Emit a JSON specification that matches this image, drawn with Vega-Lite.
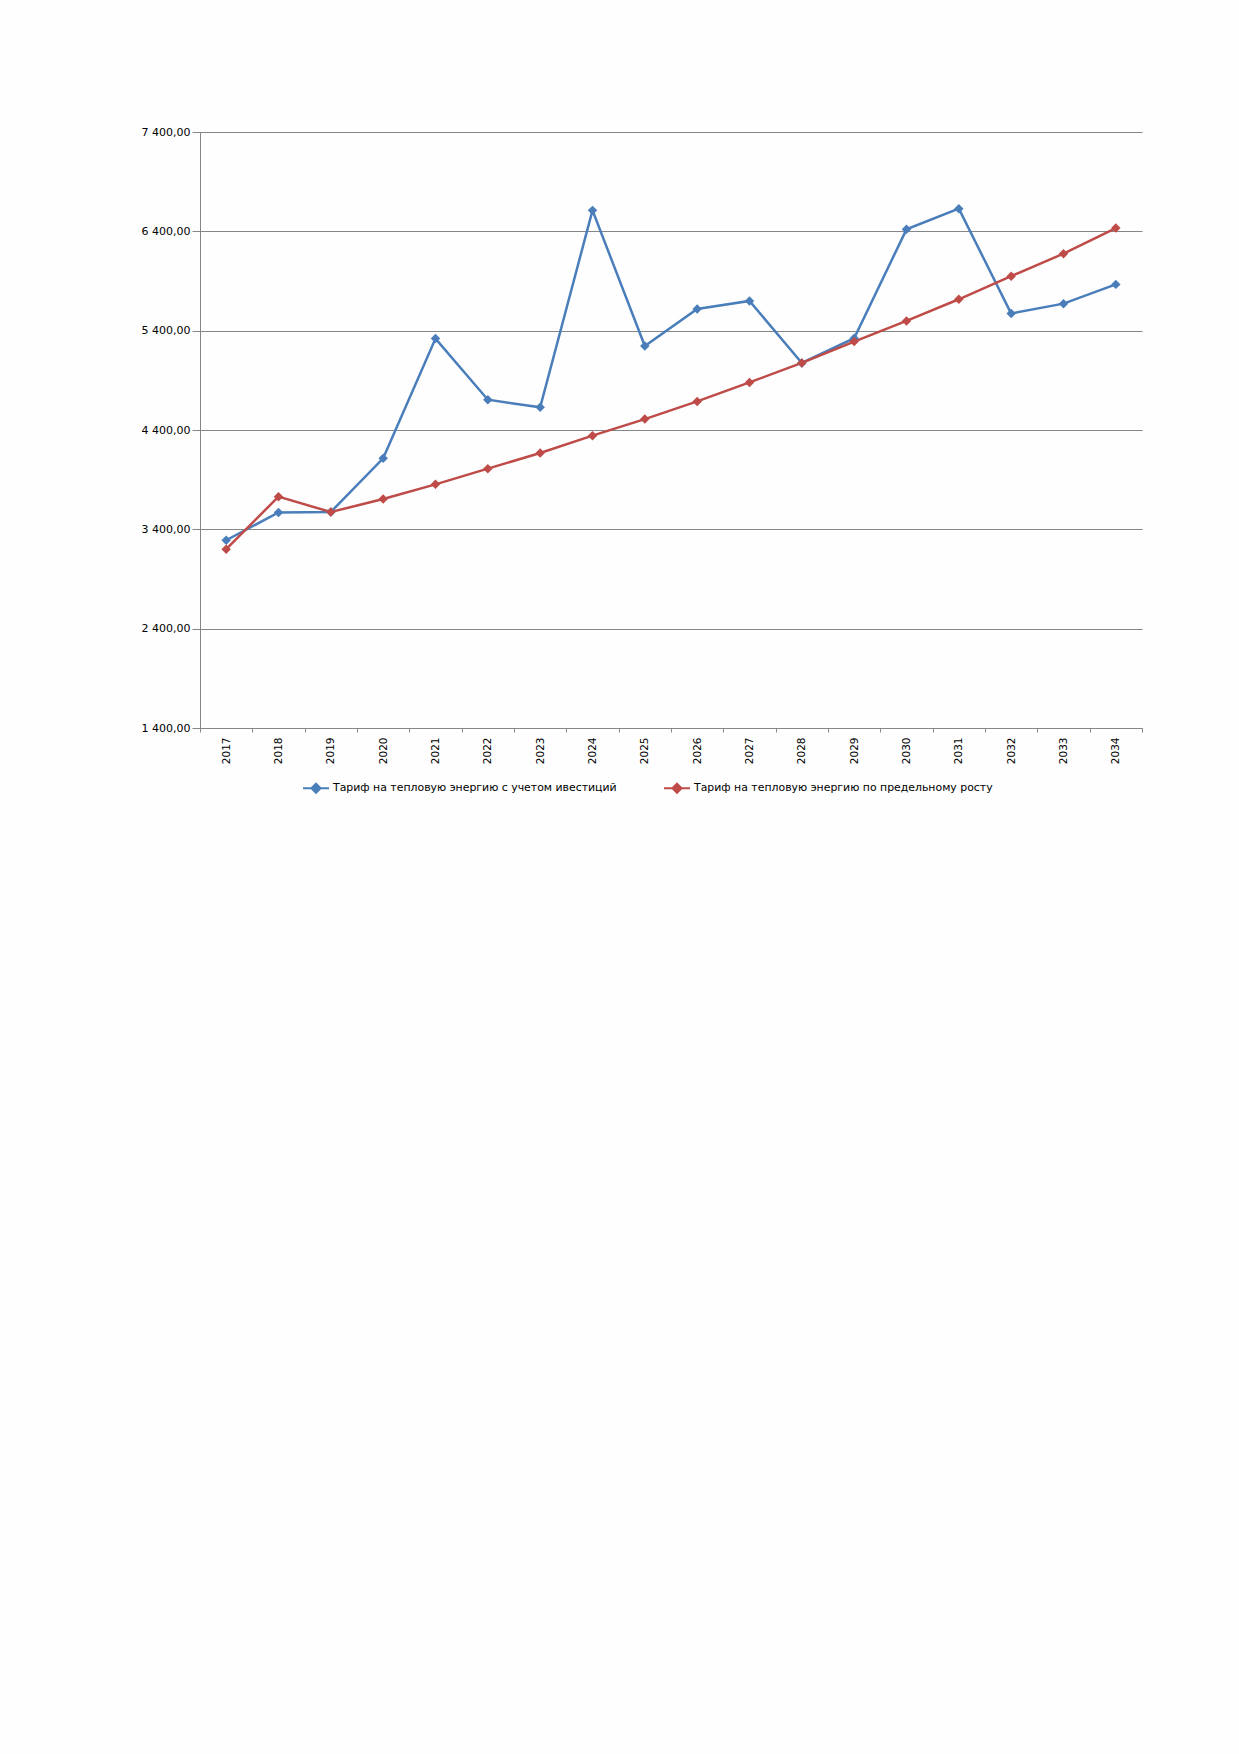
{
  "$schema": "https://vega.github.io/schema/vega-lite/v6.json",
  "width": 942,
  "height": 596,
  "autosize": {"type": "none"},
  "padding": {"left": 200, "top": 132, "right": 97, "bottom": 1026},
  "background": "#fefefe",
  "config": {
    "font": "DejaVu Sans",
    "view": {"stroke": null},
    "axis": {"labelColor": "#000000", "labelFontSize": 10.5, "domainColor": "#868686", "tickColor": "#868686", "gridColor": "#868686", "gridOpacity": 1}
  },
  "data": {
    "values": [
      {"year": "2017", "series": "Тариф на тепловую энергию с учетом ивестиций", "value": 3290},
      {"year": "2018", "series": "Тариф на тепловую энергию с учетом ивестиций", "value": 3570},
      {"year": "2019", "series": "Тариф на тепловую энергию с учетом ивестиций", "value": 3575},
      {"year": "2020", "series": "Тариф на тепловую энергию с учетом ивестиций", "value": 4115},
      {"year": "2021", "series": "Тариф на тепловую энергию с учетом ивестиций", "value": 5320},
      {"year": "2022", "series": "Тариф на тепловую энергию с учетом ивестиций", "value": 4705},
      {"year": "2023", "series": "Тариф на тепловую энергию с учетом ивестиций", "value": 4628},
      {"year": "2024", "series": "Тариф на тепловую энергию с учетом ивестиций", "value": 6611},
      {"year": "2025", "series": "Тариф на тепловую энергию с учетом ивестиций", "value": 5246},
      {"year": "2026", "series": "Тариф на тепловую энергию с учетом ивестиций", "value": 5618},
      {"year": "2027", "series": "Тариф на тепловую энергию с учетом ивестиций", "value": 5699},
      {"year": "2028", "series": "Тариф на тепловую энергию с учетом ивестиций", "value": 5075},
      {"year": "2029", "series": "Тариф на тепловую энергию с учетом ивестиций", "value": 5324},
      {"year": "2030", "series": "Тариф на тепловую энергию с учетом ивестиций", "value": 6420},
      {"year": "2031", "series": "Тариф на тепловую энергию с учетом ивестиций", "value": 6628},
      {"year": "2032", "series": "Тариф на тепловую энергию с учетом ивестиций", "value": 5573},
      {"year": "2033", "series": "Тариф на тепловую энергию с учетом ивестиций", "value": 5672},
      {"year": "2034", "series": "Тариф на тепловую энергию с учетом ивестиций", "value": 5866},
      {"year": "2017", "series": "Тариф на тепловую энергию по предельному росту", "value": 3200},
      {"year": "2018", "series": "Тариф на тепловую энергию по предельному росту", "value": 3729},
      {"year": "2019", "series": "Тариф на тепловую энергию по предельному росту", "value": 3574},
      {"year": "2020", "series": "Тариф на тепловую энергию по предельному росту", "value": 3705},
      {"year": "2021", "series": "Тариф на тепловую энергию по предельному росту", "value": 3853},
      {"year": "2022", "series": "Тариф на тепловую энергию по предельному росту", "value": 4011},
      {"year": "2023", "series": "Тариф на тепловую энергию по предельному росту", "value": 4168},
      {"year": "2024", "series": "Тариф на тепловую энергию по предельному росту", "value": 4343},
      {"year": "2025", "series": "Тариф на тепловую энергию по предельному росту", "value": 4510},
      {"year": "2026", "series": "Тариф на тепловую энергию по предельному росту", "value": 4688},
      {"year": "2027", "series": "Тариф на тепловую энергию по предельному росту", "value": 4879},
      {"year": "2028", "series": "Тариф на тепловую энергию по предельному росту", "value": 5075},
      {"year": "2029", "series": "Тариф на тепловую энергию по предельному росту", "value": 5290},
      {"year": "2030", "series": "Тариф на тепловую энергию по предельному росту", "value": 5498},
      {"year": "2031", "series": "Тариф на тепловую энергию по предельному росту", "value": 5716},
      {"year": "2032", "series": "Тариф на тепловую энергию по предельному росту", "value": 5949},
      {"year": "2033", "series": "Тариф на тепловую энергию по предельному росту", "value": 6175},
      {"year": "2034", "series": "Тариф на тепловую энергию по предельному росту", "value": 6433}
    ]
  },
  "encoding": {
    "x": {
      "field": "year",
      "type": "ordinal",
      "title": null,
      "scale": {"type": "band", "paddingInner": 0, "paddingOuter": 0},
      "axis": {"labelAngle": -90, "tickBand": "extent", "tickSize": 4, "labelPadding": 5, "labelFontSize": 10.5}
    },
    "y": {
      "field": "value",
      "type": "quantitative",
      "title": null,
      "scale": {"domain": [1400, 7400], "nice": false, "zero": false},
      "axis": {
        "values": [1400, 2400, 3400, 4400, 5400, 6400, 7400],
        "labelExpr": "replace(replace(format(datum.value, ',.2f'), ',', ' '), '.', ',')",
        "tickSize": 8,
        "labelPadding": 2,
        "labelFontSize": 11
      }
    },
    "color": {
      "field": "series",
      "type": "nominal",
      "scale": {
        "domain": ["Тариф на тепловую энергию с учетом ивестиций", "Тариф на тепловую энергию по предельному росту"],
        "range": ["#4a7ebb", "#be4b48"]
      },
      "legend": {
        "title": null,
        "orient": "none",
        "direction": "horizontal",
        "legendX": 102,
        "legendY": 642,
        "padding": 0,
        "columnPadding": 43,
        "labelFontSize": 10.9,
        "labelOffset": 3,
        "labelLimit": 400,
        "symbolSize": 676,
        "symbolStrokeWidth": 2,
        "symbolType": "M-1,0L1,0M0,-0.35L0.35,0L0,0.35L-0.35,0Z",
        "encode": {"symbols": {"update": {"fill": {"scale": "color", "field": "value"}}}}
      }
    }
  },
  "layer": [
    {"mark": {"type": "line", "strokeWidth": 2.5}},
    {"mark": {"type": "point", "shape": "diamond", "filled": true, "size": 90, "opacity": 1}}
  ]
}
